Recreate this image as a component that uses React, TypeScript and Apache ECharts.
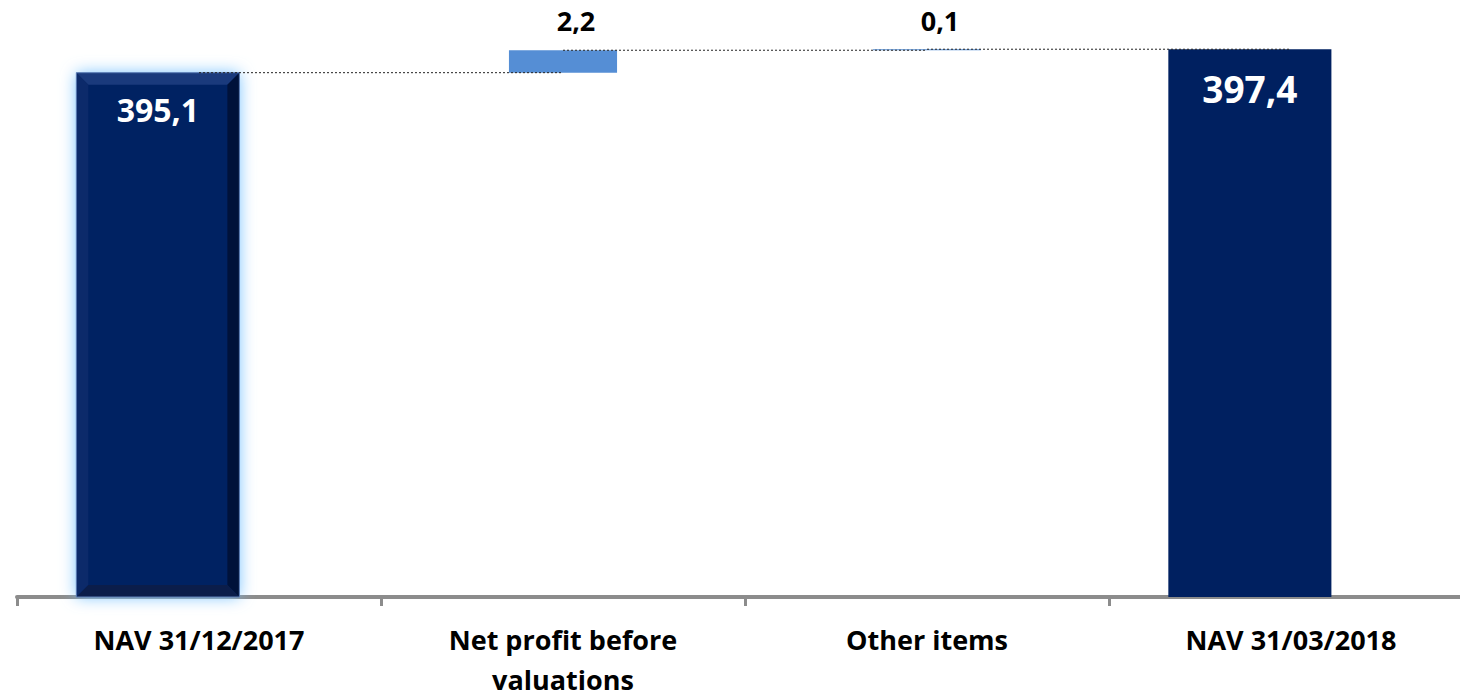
import React, { useEffect, useRef } from "react";
import * as echarts from "echarts";

const categories = ["NAV 31/12/2017", "Net profit before\nvaluations", "Other items", "NAV 31/03/2018"];
const barKinds = ["total", "delta", "delta", "total"];
const values = [395.1, 2.2, 0.1, 397.4];
const Y_MIN = 343.7;
const Y_MAX = 400;

const fmt = (v: number) => v.toFixed(1).replace(".", ",");

function buildBars() {
  let running = 0;
  const bars: number[][] = [];
  const levels: number[][] = [];
  values.forEach((v, i) => {
    if (barKinds[i] === "total") {
      bars.push([i, Y_MIN, v, 1, v]);
      running = v;
    } else {
      bars.push([i, running, running + v, 0, v]);
      running = running + v;
    }
    if (i < values.length - 1) levels.push([i, +running.toFixed(2)]);
  });
  return { bars, levels };
}

export default function App() {
  const ref = useRef<HTMLDivElement>(null);
  useEffect(() => {
    if (!ref.current) return;
    const chart = echarts.init(ref.current, null, { renderer: "svg" });
    const { bars, levels } = buildBars();
    const FONT = "'Open Sans', Lato, sans-serif";

    const renderBar = (params: any, api: any) => {
      const idx = api.value(0);
      const low = api.value(1);
      const high = api.value(2);
      const isTotal = api.value(3) === 1;
      const val = api.value(4);
      const cs = params.coordSys;
      const band = api.size([1, 0])[0];
      const top = api.coord([idx, high]);
      const cx = top[0];
      const yTop = top[1];
      const yBot = isTotal ? cs.y + cs.height : api.coord([idx, low])[1];
      const children: any[] = [];
      if (isTotal) {
        const w = band * 0.448;
        const x0 = cx - band * 0.113 - w / 2;
        const x1 = x0 + w;
        const h = yBot - yTop;
        if (idx === 0) {
          const b = 12;
          children.push({
            type: "rect",
            shape: { x: x0, y: yTop, width: w, height: h },
            style: { fill: "#042262", shadowBlur: 16, shadowColor: "rgba(120,195,255,1)" },
          });
          children.push({
            type: "polygon",
            shape: { points: [[x0, yTop], [x1, yTop], [x1 - b, yTop + b], [x0 + b, yTop + b]] },
            style: { fill: "#1a3a7c" },
          });
          children.push({
            type: "polygon",
            shape: { points: [[x0, yTop], [x0 + b, yTop + b], [x0 + b, yBot - b], [x0, yBot]] },
            style: { fill: "#0c2a6a" },
          });
          children.push({
            type: "polygon",
            shape: { points: [[x1, yTop], [x1, yBot], [x1 - b, yBot - b], [x1 - b, yTop + b]] },
            style: { fill: "#00123a" },
          });
          children.push({
            type: "polygon",
            shape: { points: [[x0, yBot], [x1, yBot], [x1 - b, yBot - b], [x0 + b, yBot - b]] },
            style: { fill: "#0b1d4a" },
          });
          children.push({
            type: "rect",
            shape: { x: x0, y: yTop, width: w, height: h },
            style: { fill: "none", stroke: "#5f80b8", lineWidth: 1 },
          });
        } else {
          children.push({
            type: "rect",
            shape: { x: x0, y: yTop, width: w, height: h },
            style: { fill: "#002060" },
          });
        }
        const big = idx !== 0;
        children.push({
          type: "text",
          style: {
            x: (x0 + x1) / 2,
            y: yTop + (big ? 39 : 36.5),
            text: fmt(val),
            fill: "#ffffff",
            font: `bold ${big ? 37 : 32}px ${FONT}`,
            align: "center",
            verticalAlign: "middle",
          },
        });
      } else {
        const w = band * 0.297;
        children.push({
          type: "rect",
          shape: { x: cx - w / 2, y: yTop, width: w, height: Math.max(1, yBot - yTop) },
          style: { fill: "#558ed5" },
        });
        children.push({
          type: "text",
          style: {
            x: cx + 13,
            y: 20.5,
            text: fmt(val),
            fill: "#000000",
            font: `bold 27px ${FONT}`,
            align: "center",
            verticalAlign: "middle",
          },
        });
      }
      return { type: "group", children };
    };

    const renderConnector = (params: any, api: any) => {
      const idx = api.value(0);
      const lvl = api.value(1);
      const p0 = api.coord([idx, lvl]);
      const p1 = api.coord([idx + 1, lvl]);
      return {
        type: "line",
        shape: { x1: p0[0], y1: p0[1], x2: p1[0], y2: p1[1] },
        style: { stroke: "#222222", lineWidth: 1, lineDash: [2, 2] },
        z2: 10,
      };
    };

    chart.setOption({
      animation: false,
      grid: {
        left: 17,
        width: 1456,
        top: 22.7,
        bottom: 95,
        containLabel: false,
        outerBoundsMode: "none",
      },
      xAxis: {
        type: "category",
        data: categories,
        boundaryGap: true,
        axisLine: { onZero: false, lineStyle: { color: "#8c8c8c", width: 4 } },
        axisTick: { show: true, interval: 0, length: 9, lineStyle: { color: "#8c8c8c", width: 3 } },
        axisLabel: {
          interval: 0,
          color: "#000000",
          fontFamily: FONT,
          fontWeight: "bold",
          fontSize: 27,
          lineHeight: 40,
          margin: 22,
        },
      },
      yAxis: { type: "value", min: Y_MIN, max: Y_MAX, show: false, splitLine: { show: false } },
      series: [
        {
          type: "custom",
          renderItem: renderBar,
          data: bars,
          encode: { x: 0, y: 2 },
          z: 2,
        },
        {
          type: "custom",
          renderItem: renderConnector,
          data: levels,
          encode: { x: 0, y: 1 },
          z: 3,
        },
      ],
    });
    return () => chart.dispose();
  }, []);
  return (
    <div style={{ position: "absolute", left: 0, top: 0, width: 1460, height: 692, overflow: "hidden" }}>
      <div ref={ref} style={{ width: 1490, height: 692 }} />
    </div>
  );
}
